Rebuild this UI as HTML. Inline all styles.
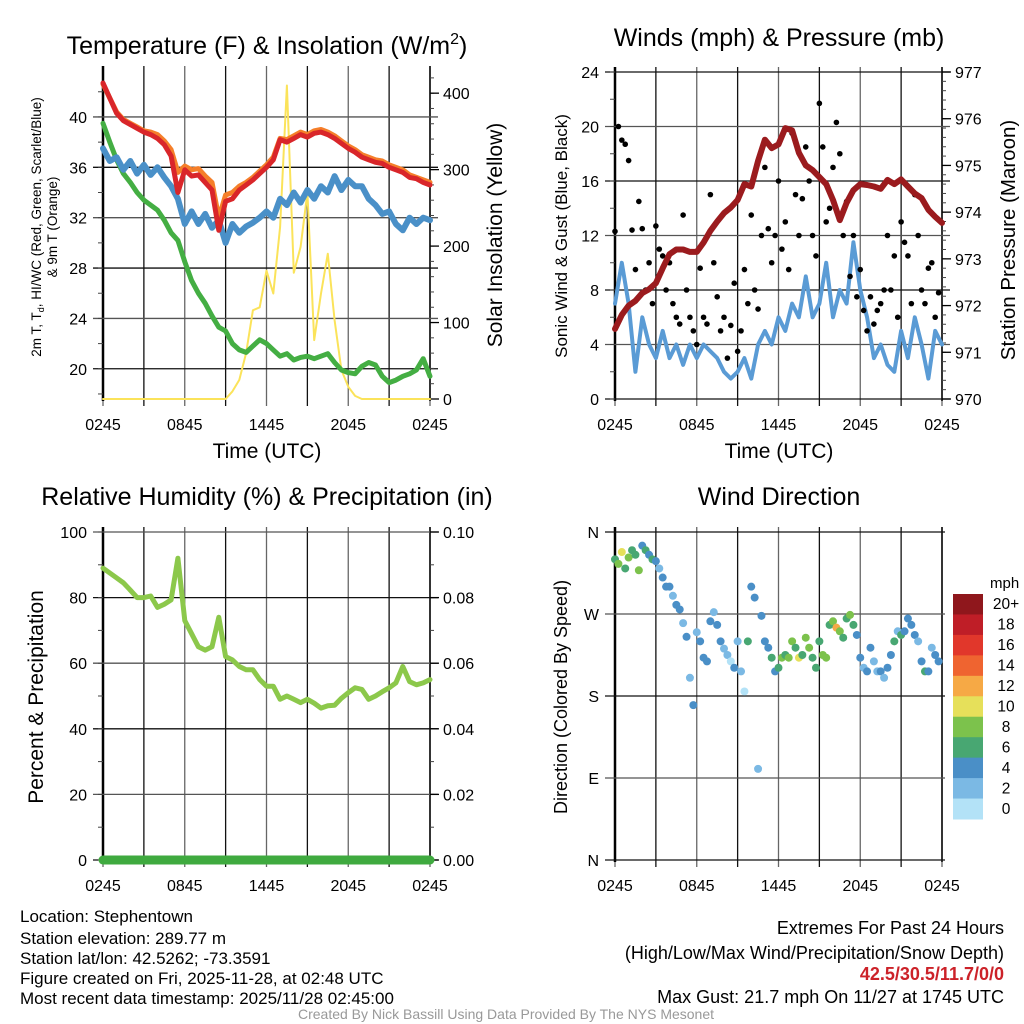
<!DOCTYPE html>
<html><head><meta charset="utf-8"><style>
html,body{margin:0;padding:0;background:#fff;}
svg{display:block;font-family:"Liberation Sans",Arial,sans-serif;}
</style></head><body>
<svg id="fig" width="1024" height="1024" viewBox="0 0 1024 1024" xmlns="http://www.w3.org/2000/svg">
<rect width="1024" height="1024" fill="#fff"/>
<g id="layer"></g>
<text x="267" y="54" font-size="25" text-anchor="middle">Temperature (F) &amp; Insolation (W/m<tspan font-size="16" dy="-10">2</tspan><tspan dy="10">)</tspan></text>
<text x="779" y="46" font-size="25" text-anchor="middle">Winds (mph) &amp; Pressure (mb)</text>
<text x="267" y="505" font-size="25" text-anchor="middle">Relative Humidity (%) &amp; Precipitation (in)</text>
<text x="779" y="505" font-size="25" text-anchor="middle">Wind Direction</text>
<text x="267" y="458" font-size="21" text-anchor="middle">Time (UTC)</text>
<text x="779" y="458" font-size="21" text-anchor="middle">Time (UTC)</text>
<text transform="translate(41,227) rotate(-90)" font-size="13.5" text-anchor="middle">2m T, T<tspan font-size="9" dy="3">d</tspan><tspan dy="-3">, HI/WC (Red, Green, Scarlet/Blue)</tspan></text>
<text transform="translate(57,227) rotate(-90)" font-size="13.5" text-anchor="middle">&amp; 9m T (Orange)</text>
<text transform="translate(502,235) rotate(-90)" font-size="21" text-anchor="middle">Solar Insolation (Yellow)</text>
<text transform="translate(567,236) rotate(-90)" font-size="17" text-anchor="middle">Sonic Wind &amp; Gust (Blue, Black)</text>
<text transform="translate(1015,240) rotate(-90)" font-size="20.5" text-anchor="middle">Station Pressure (Maroon)</text>
<text transform="translate(43,697) rotate(-90)" font-size="21" text-anchor="middle">Percent &amp; Precipitation</text>
<text transform="translate(567,697) rotate(-90)" font-size="18" text-anchor="middle">Direction (Colored By Speed)</text>
<text x="990" y="588" font-size="15">mph</text>
<g font-size="17">
<text x="20" y="922">Location: Stephentown</text>
<text x="20" y="944">Station elevation: 289.77 m</text>
<text x="20" y="964">Station lat/lon: 42.5262; -73.3591</text>
<text x="20" y="984">Figure created on Fri, 2025-11-28, at 02:48 UTC</text>
<text x="20" y="1004">Most recent data timestamp: 2025/11/28 02:45:00</text>
</g>
<g font-size="18" text-anchor="end">
<text x="1004" y="934">Extremes For Past 24 Hours</text>
<text x="1004" y="959">(High/Low/Max Wind/Precipitation/Snow Depth)</text>
<text x="1004" y="980" fill="#cc2229" font-weight="bold">42.5/30.5/11.7/0/0</text>
<text x="1004" y="1003">Max Gust: 21.7 mph On 11/27 at 1745 UTC</text>
</g>
<text x="506" y="1019" font-size="14" fill="#999" text-anchor="middle">Created By Nick Bassill Using Data Provided By The NYS Mesonet</text>
</svg>
<script>
// ---- data (30-min steps, 0245 -> 0245) ----
const xTickLabels = ["0245","0845","1445","2045","0245"];
const tempTicks = [20,24,28,32,36,40];
const solarTicks = [0,100,200,300,400];
const windTicks = [0,4,8,12,16,20,24];
const presTicks = [970,971,972,973,974,975,976,977];
const rhTicks = [0,20,40,60,80,100];
const precipTicks = ["0.00","0.02","0.04","0.06","0.08","0.10"];
const dirTicks = ["N","E","S","W","N"];
const speedBins = ["0","2","4","6","8","10","12","14","16","18","20+"];
const tempT = [42.7,41.5,40.3,39.7,39.4,39.1,38.8,38.6,38.3,37.8,36.9,34.0,35.8,35.3,35.4,34.8,34.2,31.0,33.3,33.5,34.2,34.6,35.0,35.5,36.0,36.6,38.2,38.0,38.3,38.6,38.4,38.7,38.8,38.6,38.3,37.9,37.5,37.2,36.8,36.6,36.4,36.3,36.0,35.8,35.6,35.2,35.1,34.8,34.6];
const temp9m = [42.6,41.5,40.4,39.8,39.5,39.2,38.9,38.8,38.6,38.1,37.4,35.6,36.1,35.8,35.9,35.3,34.8,32.0,33.8,34.0,34.5,34.8,35.2,35.7,36.2,36.8,38.3,38.2,38.5,38.8,38.6,38.9,39.0,38.8,38.5,38.1,37.7,37.4,37.0,36.8,36.6,36.5,36.2,36.0,35.8,35.4,35.2,35.0,34.8];
const windChill = [37.5,36.5,36.8,35.8,36.5,35.5,36.2,35.4,36.0,35.2,34.5,33.5,31.5,32.5,31.5,32.3,31.2,31.8,30.0,31.5,30.8,31.3,31.6,32.0,32.5,32.0,33.5,33.0,34.0,33.2,34.2,33.5,34.5,34.0,35.3,34.2,35.0,34.5,34.5,33.5,33.0,32.3,32.5,31.5,31.0,32.0,31.5,32.0,31.8];
const dewpoint = [39.5,38.0,36.6,35.5,34.8,34.0,33.4,33.0,32.6,31.8,30.8,30.2,28.5,27.0,26.0,25.2,24.2,23.3,23.0,22.0,21.5,21.3,21.8,22.3,22.0,21.5,21.0,21.2,20.7,20.9,21.0,20.8,21.0,21.2,20.5,19.9,19.7,19.6,20.2,20.5,20.3,19.4,18.9,19.1,19.4,19.6,19.9,20.8,19.4];
const solar = [0,0,0,0,0,0,0,0,0,0,0,0,0,0,0,0,0,0,0,10,25,60,116,120,168,138,225,410,165,199,270,77,138,190,103,38,16,4,0,0,0,0,0,0,0,0,0,0,0];
const pressure = [971.5,971.8,972.0,972.1,972.27,972.35,972.48,972.8,973.1,973.2,973.2,973.15,973.15,973.35,973.6,973.8,973.98,974.1,974.26,974.6,974.55,975.1,975.55,975.37,975.45,975.8,975.75,975.27,975.0,974.9,974.75,974.6,974.26,973.83,974.2,974.47,974.6,974.58,974.55,974.5,974.69,974.6,974.7,974.55,974.4,974.3,974.05,973.9,973.77];
const windSpeed = [7,10,7,2,6,4,3,5,3,4,2.5,4,3,4,3.5,3,2,1.5,2,3,1.5,4,5,4,6,5,7,6,9,6,7,10,6,8,7,11.5,8,6,3,4,2.5,2,5,3,6,4,1.5,5,4];
const rh = [89,87.5,86,84.5,82.3,80,80,80.5,77,78,79.3,92,73,69,65,64,65,74,62,61,59,58,58,55,53,53,49,50,49,48,49,47.8,46.3,47,47.2,49.3,51,52.5,52,49,50,51.3,52.5,54,59,54.4,53.4,54,55];
// 15-min steps
const gust = [12.3,20,19,18.7, 17.5,12.4,9.5,14.5, 12.5,8,10,7, 12.7,11,10.5,8, 10,7,6,5.5, 13.5,8,6,5, 4,9.6,6,5.5, 15,10,7.5,5, 6,3,5.4,8.5, 3.5,5,9.5,7, 13.5,8,6.6,12, 17,12.5,10,12, 16,11,13,9.5, 19.5,15,12,14.7, 18.5,16,12,10.5, 21.7,18.5,13,14, 17,20.3,18,12, 14.5,9,12,7.5, 9.5,6.5,5,7.5, 5.5,6.5,7,8, 12,8,10.5,6, 13,11.5,10.5,7, 15,12,8,7, 9.6,10,6,7.8];
const direction = [330,325,338,320, 332,340,335,318, 345,340,335,330, 328,320,310,300, 300,290,280,275, 260,245,200,170, 250,240,222,218, 262,272,258,240, 232,225,218,211, 240,207,185,240, 300,288,100,268, 240,233,222,207, 211,222,225,222, 240,233,222,225, 244,233,222,211, 240,225,222,258, 262,255,251,244, 265,269,258,247, 222,211,207,233, 218,207,207,200, 211,225,240,251, 247,251,265,258, 247,240,218,207, 207,233,225,218];
const dirSpeed = [7,9,10,6, 8,7,6,9, 5,7,4,6, 4,3,5,4, 4,3,4,5, 3,4,2,4, 3,4,5,4, 4,3,4,5, 2,3,1,4, 2,3,1,6, 4,5,3,4, 5,4,7,4, 7,8,6,9, 8,7,10,6, 8,9,7,6, 7,8,9,6, 8,12,9,7, 6,8,7,5, 4,3,5,4, 3,2,4,3, 5,4,6,3, 7,4,5,4, 4,3,5,6, 4,3,4,5];
const binColors = ["#b3e2f7","#7bb9e4","#4a8fc7","#48a772","#7cc24c","#e6e05a","#f6a945","#ef6430","#e1372b","#bf1e27","#8f171c"];

const NS="http://www.w3.org/2000/svg";
const layer=document.getElementById('layer');
function mk(tag,attrs,parent){const e=document.createElementNS(NS,tag);for(const k in attrs)e.setAttribute(k,attrs[k]);(parent||layer).appendChild(e);return e;}
function lin(d0,d1,r0,r1){return v=>r0+(v-d0)/(d1-d0)*(r1-r0);}

function panel(name,x0,x1,y0,y1){
  const g=mk('g',{});
  
  
  const xs=lin(0,24,x0,x1);
  for(let h=0;h<=24;h+=3){
    const x=xs(h);
    const l=mk('line',{x1:x,x2:x,y1:y0-5,y2:y1+7,stroke:(h%6==0)?'#666':'#111','stroke-width':1.3},g);
    
    
  }
  for(let i=0;i<xTickLabels.length;i++){
    const t=mk('text',{x:xs(i*6),y:y1+31,'font-size':16,'text-anchor':'middle'},g);
    t.textContent=xTickLabels[i];
    
    
  }
  mk('line',{x1:x0,x2:x0,y1:y0-5,y2:y1+2,stroke:'#000','stroke-width':2.5},g);
  mk('line',{x1:x1,x2:x1,y1:y0-5,y2:y1+2,stroke:'#000','stroke-width':1.5},g);
  return {g,xs};
}
function hgrid(g,ys,vals,labels,x0,x1,side){
  vals.forEach((v,i)=>{
    const y=ys(v);
    const l=mk('line',{x1:x0-10,x2:x1+(side?8:3),y1:y,y2:y,stroke:(i%2)?'#555':'#111','stroke-width':1.3},g);
    
    
    const t=mk('text',{x:x0-16,y:y+6,'font-size':16,'text-anchor':'end'},g);
    t.textContent=labels[i];
    
    
  });
}
function rightTicks(g,ys,vals,labels,x1,minorStep,lo,hi){
  for(let v=lo;v<=hi+1e-9;v+=minorStep){mk('line',{x1:x1,x2:x1+4,y1:ys(v),y2:ys(v),stroke:'#444','stroke-width':1},g);}
  vals.forEach((v,i)=>{
    const y=ys(v);
    mk('line',{x1:x1,x2:x1+9,y1:y,y2:y,stroke:'#000','stroke-width':1.3},g);
    const t=mk('text',{x:x1+13,y:y+6,'font-size':16},g);
    t.textContent=labels[i];
    
    
  });
}
function leftMinor(g,ys,lo,hi,step,x0){
  for(let v=lo;v<=hi+1e-9;v+=step){mk('line',{x1:x0-5,x2:x0,y1:ys(v),y2:ys(v),stroke:'#444','stroke-width':1},g);}
}
function path(arr,xs,ys,step,attrs,name){
  let d='';arr.forEach((v,i)=>{d+=(i?'L':'M')+xs(i*step).toFixed(1)+','+ys(v).toFixed(1);});
  const p=mk('path',Object.assign({d:d,fill:'none','stroke-linejoin':'round','stroke-linecap':'round'},attrs));
  
  
  return p;
}

// Panel 1
{
  const x0=103,x1=430,y0=71,y1=399;
  const {g,xs}=panel('temperature',x0,x1,y0,y1);
  const yT=lin(17.6,43.65,y1,y0), yS=lin(0,429,y1,y0);
  hgrid(g,yT,tempTicks,tempTicks.map(String),x0,x1,true);
  leftMinor(g,yT,18,42,2,x0);
  rightTicks(g,yS,solarTicks,solarTicks.map(String),x1,20,0,420);
  path(solar,xs,yS,0.5,{stroke:'#fbe35a','stroke-width':2},'solar-line');
  path(dewpoint,xs,yT,0.5,{stroke:'#44ae43','stroke-width':5},'dewpoint-line');
  path(windChill,xs,yT,0.5,{stroke:'#4a90c8','stroke-width':6},'windchill-line');
  path(temp9m,xs,yT,0.5,{stroke:'#f57f2a','stroke-width':5},'temp-9m-line');
  path(tempT,xs,yT,0.5,{stroke:'#d9262a','stroke-width':5},'temp-2m-line');
}
// Panel 2
{
  const x0=615,x1=942,y0=72,y1=399;
  const {g,xs}=panel('wind',x0,x1,y0,y1);
  const yW=lin(0,24,y1,y0), yP=lin(970,977,y1,y0);
  hgrid(g,yW,windTicks,windTicks.map(String),x0,x1,true);
  leftMinor(g,yW,0,24,2,x0);
  rightTicks(g,yP,presTicks,presTicks.map(String),x1,0.2,970,977);
  path(windSpeed,xs,yW,0.5,{stroke:'#5a9bd5','stroke-width':4},'sonic-wind-line');
  gust.forEach((v,i)=>{
    const c=mk('circle',{cx:xs(i*0.25),cy:yW(v),r:2.8,fill:'#000'});
    
    
  });
  path(pressure,xs,yP,0.5,{stroke:'#9b1b1e','stroke-width':6},'pressure-line');
}
// Panel 3
{
  const x0=103,x1=430,y0=532,y1=860;
  const {g,xs}=panel('humidity',x0,x1,y0,y1);
  const yR=lin(0,100,y1,y0);
  hgrid(g,yR,rhTicks,rhTicks.map(String),x0,x1,true);
  leftMinor(g,yR,0,100,10,x0);
  rightTicks(g,lin(0,0.1,y1,y0),[0,0.02,0.04,0.06,0.08,0.1],precipTicks,x1,0.01,0,0.1);
  path(rh,xs,yR,0.5,{stroke:'#8cc84b','stroke-width':5},'rh-line');
  const zero=Array(49).fill(0);
  path(zero,xs,lin(0,0.1,y1,y0),0.5,{stroke:'#3faa3f','stroke-width':9},'precip-line');
}
// Panel 4
{
  const x0=615,x1=942,y0=532,y1=860;
  const {g,xs}=panel('direction',x0,x1,y0,y1);
  const yD=lin(0,360,y1,y0);
  hgrid(g,yD,[0,90,180,270,360],dirTicks,x0,x1,false);
  direction.forEach((v,i)=>{
    const b=Math.min(10,Math.floor(dirSpeed[i]/2));
    const c=mk('circle',{cx:xs(i*0.25),cy:yD(v),r:4,fill:binColors[b]});
    
    
  });
  const cb=mk('g',{});
  
  
  const top=594,bh=225/11;
  for(let i=0;i<11;i++){
    const bin=10-i;
    mk('rect',{x:953,y:top+i*bh,width:30,height:bh+0.5,fill:binColors[bin]},cb);
    const t=mk('text',{x:1006,y:top+i*bh+bh/2+5,'font-size':15.5,'text-anchor':'middle'},cb);
    t.textContent=speedBins[bin];
    
    
  }
}
</script>
</body></html>
